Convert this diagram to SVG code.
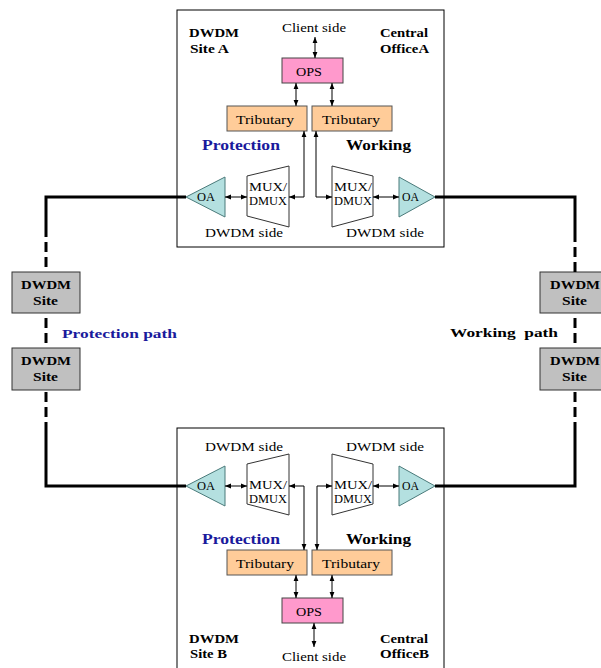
<svg xmlns="http://www.w3.org/2000/svg" width="601" height="668" viewBox="0 0 601 668">
<style>
text{font-family:"Liberation Serif","Times New Roman",serif;fill:#000}
.r{font-size:13px}
.s{font-size:12px}
.b{font-size:13px;font-weight:bold}
.bl{font-size:15px;font-weight:bold}
.blue{fill:#1a1a9c}
.frame{fill:#fff;stroke:#000;stroke-width:1}
.ops{fill:#ff99cc;stroke:#444;stroke-width:1}
.trib{fill:#ffcc99;stroke:#555;stroke-width:1}
.mux{fill:#fff;stroke:#333;stroke-width:1}
.oa{fill:#b4e0e0;stroke:#4a7a7a;stroke-width:1}
.site{fill:#c0c0c0;stroke:#333;stroke-width:1}
.thin{fill:none;stroke:#000;stroke-width:1}
.thick{fill:none;stroke:#000;stroke-width:3}
.dash{fill:none;stroke:#000;stroke-width:3;stroke-dasharray:10 5}
</style>
<defs>
<marker id="ah" viewBox="0 0 10 10" refX="10" refY="5" markerWidth="6" markerHeight="6" markerUnits="userSpaceOnUse" orient="auto-start-reverse"><path d="M0,1 L10,5 L0,9 z" fill="#000"/></marker>
</defs>

<g id="officeA">
<rect class="frame" x="177" y="10" width="267" height="237"/>
<text class="b" x="189" y="37" textLength="50" lengthAdjust="spacingAndGlyphs">DWDM</text>
<text class="b" x="190" y="53" textLength="39" lengthAdjust="spacingAndGlyphs">Site A</text>
<text class="b" x="380" y="37" textLength="48" lengthAdjust="spacingAndGlyphs">Central</text>
<text class="b" x="380" y="53" textLength="49" lengthAdjust="spacingAndGlyphs">OfficeA</text>
<text class="r" x="282" y="32" textLength="64" lengthAdjust="spacingAndGlyphs">Client side</text>
<text class="bl blue" x="202" y="150" textLength="78" lengthAdjust="spacingAndGlyphs">Protection</text>
<text class="bl" x="346" y="150" textLength="65" lengthAdjust="spacingAndGlyphs">Working</text>
<text class="r" x="205" y="237" textLength="78" lengthAdjust="spacingAndGlyphs">DWDM side</text>
<text class="r" x="346" y="237" textLength="78" lengthAdjust="spacingAndGlyphs">DWDM side</text>
</g>
<g id="opsA">
<rect class="ops" x="282" y="58" width="61" height="25"/>
<text class="r" x="296" y="76" textLength="26" lengthAdjust="spacingAndGlyphs">OPS</text>
</g>
<g id="tribA1">
<rect class="trib" x="227" y="106" width="80" height="25"/>
<text class="r" x="236" y="124" textLength="58" lengthAdjust="spacingAndGlyphs">Tributary</text>
</g>
<g id="tribA2">
<rect class="trib" x="312" y="106" width="80" height="25"/>
<text class="r" x="322" y="124" textLength="58" lengthAdjust="spacingAndGlyphs">Tributary</text>
</g>
<g id="muxA1">
<path class="mux" d="M247,176 L289,166 L289,227 L247,216 Z"/>
<text class="s" x="249" y="191" textLength="38" lengthAdjust="spacingAndGlyphs">MUX/</text>
<text class="s" x="249" y="205" textLength="38" lengthAdjust="spacingAndGlyphs">DMUX</text>
</g>
<g id="muxA2">
<path class="mux" d="M332,166 L373,176 L373,216 L332,227 Z"/>
<text class="s" x="334" y="191" textLength="38" lengthAdjust="spacingAndGlyphs">MUX/</text>
<text class="s" x="334" y="205" textLength="38" lengthAdjust="spacingAndGlyphs">DMUX</text>
</g>
<g id="oaA1">
<path class="oa" d="M186,197 L225,177 L225,217 Z"/>
<text class="s" x="197" y="201" textLength="18" lengthAdjust="spacingAndGlyphs">OA</text>
</g>
<g id="oaA2">
<path class="oa" d="M399,177 L435,197 L399,217 Z"/>
<text class="s" x="402" y="201" textLength="17" lengthAdjust="spacingAndGlyphs">OA</text>
</g>

<g id="officeB">
<rect class="frame" x="177" y="428" width="267" height="250"/>
<text class="b" x="189" y="643" textLength="50" lengthAdjust="spacingAndGlyphs">DWDM</text>
<text class="b" x="190" y="658" textLength="37" lengthAdjust="spacingAndGlyphs">Site B</text>
<text class="b" x="380" y="643" textLength="48" lengthAdjust="spacingAndGlyphs">Central</text>
<text class="b" x="380" y="658" textLength="49" lengthAdjust="spacingAndGlyphs">OfficeB</text>
<text class="r" x="282" y="661" textLength="64" lengthAdjust="spacingAndGlyphs">Client side</text>
<text class="bl blue" x="202" y="544" textLength="78" lengthAdjust="spacingAndGlyphs">Protection</text>
<text class="bl" x="346" y="544" textLength="65" lengthAdjust="spacingAndGlyphs">Working</text>
<text class="r" x="205" y="451" textLength="78" lengthAdjust="spacingAndGlyphs">DWDM side</text>
<text class="r" x="346" y="451" textLength="78" lengthAdjust="spacingAndGlyphs">DWDM side</text>
</g>
<g id="opsB">
<rect class="ops" x="282" y="598" width="61" height="25"/>
<text class="r" x="296" y="616" textLength="26" lengthAdjust="spacingAndGlyphs">OPS</text>
</g>
<g id="tribB1">
<rect class="trib" x="227" y="550" width="80" height="25"/>
<text class="r" x="236" y="568" textLength="58" lengthAdjust="spacingAndGlyphs">Tributary</text>
</g>
<g id="tribB2">
<rect class="trib" x="312" y="550" width="80" height="25"/>
<text class="r" x="322" y="568" textLength="58" lengthAdjust="spacingAndGlyphs">Tributary</text>
</g>
<g id="muxB1">
<path class="mux" d="M247,464 L289,454 L289,515 L247,504 Z"/>
<text class="s" x="249" y="489" textLength="38" lengthAdjust="spacingAndGlyphs">MUX/</text>
<text class="s" x="249" y="503" textLength="38" lengthAdjust="spacingAndGlyphs">DMUX</text>
</g>
<g id="muxB2">
<path class="mux" d="M332,454 L373,464 L373,504 L332,515 Z"/>
<text class="s" x="334" y="489" textLength="38" lengthAdjust="spacingAndGlyphs">MUX/</text>
<text class="s" x="334" y="503" textLength="38" lengthAdjust="spacingAndGlyphs">DMUX</text>
</g>
<g id="oaB1">
<path class="oa" d="M186,486 L225,466 L225,506 Z"/>
<text class="s" x="197" y="490" textLength="18" lengthAdjust="spacingAndGlyphs">OA</text>
</g>
<g id="oaB2">
<path class="oa" d="M399,466 L435,486 L399,506 Z"/>
<text class="s" x="402" y="490" textLength="17" lengthAdjust="spacingAndGlyphs">OA</text>
</g>

<g id="siteL1">
<rect class="site" x="12" y="272" width="68" height="41"/>
<text class="b" x="21" y="289" textLength="50" lengthAdjust="spacingAndGlyphs">DWDM</text>
<text class="b" x="33" y="305" textLength="25" lengthAdjust="spacingAndGlyphs">Site</text>
</g>
<g id="siteL2">
<rect class="site" x="12" y="348" width="68" height="42"/>
<text class="b" x="21" y="365" textLength="50" lengthAdjust="spacingAndGlyphs">DWDM</text>
<text class="b" x="33" y="381" textLength="25" lengthAdjust="spacingAndGlyphs">Site</text>
</g>
<g id="siteR1">
<rect class="site" x="540" y="272" width="70" height="41"/>
<text class="b" x="550" y="289" textLength="50" lengthAdjust="spacingAndGlyphs">DWDM</text>
<text class="b" x="562" y="305" textLength="25" lengthAdjust="spacingAndGlyphs">Site</text>
</g>
<g id="siteR2">
<rect class="site" x="540" y="348" width="70" height="42"/>
<text class="b" x="550" y="365" textLength="50" lengthAdjust="spacingAndGlyphs">DWDM</text>
<text class="b" x="562" y="381" textLength="25" lengthAdjust="spacingAndGlyphs">Site</text>
</g>
<g id="pathLabels">
<text class="b blue" x="62" y="338" textLength="115" lengthAdjust="spacingAndGlyphs">Protection path</text>
<text class="b" x="450" y="337" textLength="108" lengthAdjust="spacingAndGlyphs" xml:space="preserve">Working  path</text>
</g>

<g id="connectors">
<line class="thin" x1="315" y1="37" x2="315" y2="58" marker-start="url(#ah)" marker-end="url(#ah)"/>
<line class="thin" x1="296" y1="83" x2="296" y2="106" marker-start="url(#ah)" marker-end="url(#ah)"/>
<line class="thin" x1="332" y1="83" x2="332" y2="106" marker-start="url(#ah)" marker-end="url(#ah)"/>
<path class="thin" d="M304,131 L304,197 L289,197" marker-start="url(#ah)" marker-end="url(#ah)"/>
<path class="thin" d="M316,131 L316,197 L332,197" marker-start="url(#ah)" marker-end="url(#ah)"/>
<line class="thin" x1="225" y1="197" x2="247" y2="197" marker-start="url(#ah)" marker-end="url(#ah)"/>
<line class="thin" x1="373" y1="197" x2="399" y2="197" marker-start="url(#ah)" marker-end="url(#ah)"/>

<line class="thin" x1="225" y1="486" x2="247" y2="486" marker-start="url(#ah)" marker-end="url(#ah)"/>
<line class="thin" x1="373" y1="486" x2="399" y2="486" marker-start="url(#ah)" marker-end="url(#ah)"/>
<path class="thin" d="M289,486 L304,486 L304,550" marker-start="url(#ah)" marker-end="url(#ah)"/>
<path class="thin" d="M332,486 L317,486 L317,550" marker-start="url(#ah)" marker-end="url(#ah)"/>
<line class="thin" x1="296" y1="575" x2="296" y2="598" marker-start="url(#ah)" marker-end="url(#ah)"/>
<line class="thin" x1="332" y1="575" x2="332" y2="598" marker-start="url(#ah)" marker-end="url(#ah)"/>
<line class="thin" x1="314" y1="623" x2="314" y2="647" marker-start="url(#ah)" marker-end="url(#ah)"/>

<path class="thick" d="M186,197 L46,197 L46,227"/>
<line class="dash" x1="46" y1="227" x2="46" y2="272"/>
<line class="dash" x1="46" y1="318" x2="46" y2="348"/>
<line class="dash" x1="46" y1="392" x2="46" y2="422"/>
<path class="thick" d="M46,422 L46,486 L186,486"/>

<path class="thick" d="M435,197 L575,197 L575,232"/>
<line class="dash" x1="575" y1="232" x2="575" y2="272"/>
<line class="dash" x1="575" y1="318" x2="575" y2="348"/>
<line class="dash" x1="575" y1="392" x2="575" y2="422"/>
<path class="thick" d="M575,422 L575,486 L435,486"/>
</g>
</svg>
